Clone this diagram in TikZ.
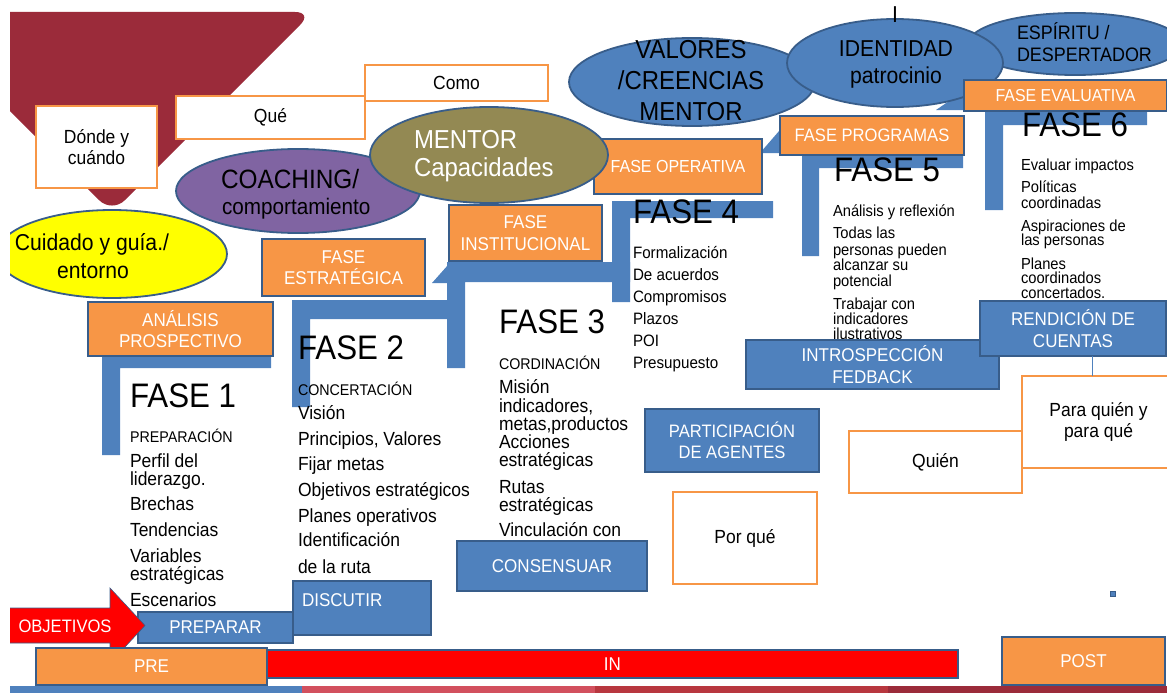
\documentclass[tikz,border=0pt]{standalone}
\usepackage{fontspec}
\setmainfont[FakeStretch=0.92]{Liberation Sans}
\usetikzlibrary{shapes.geometric}
\definecolor{dred}{RGB}{155,43,58}
\definecolor{orng}{RGB}{247,150,70}
\definecolor{blu}{RGB}{79,129,189}
\definecolor{bdr}{RGB}{56,93,138}
\definecolor{purp}{RGB}{128,100,162}
\definecolor{olive}{RGB}{147,137,83}
\definecolor{yel}{RGB}{255,255,0}
\definecolor{strp}{RGB}{210,80,94}
\definecolor{strq}{RGB}{184,55,63}
\newcommand\fs[2]{\fontsize{#1}{#2}\selectfont}
\begin{document}
\begin{tikzpicture}[x=1pt,y=-1pt,
  every node/.style={inner sep=0pt,outer sep=0pt},
  obox/.style={draw=bdr,fill=orng,line width=1.5pt,text=white,align=center,font=\fs{18.5}{21.5},anchor=north west},
  bbox/.style={draw=bdr,fill=blu,line width=2pt,text=white,align=center,font=\fs{18.5}{21.5},anchor=north west},
  wbox/.style={draw=orng,fill=white,line width=2.5pt,text=black,align=center,font=\fs{19}{20.5},anchor=north west},
  ell/.style={ellipse,draw=bdr,line width=1.8pt},
  bar/.style={fill=blu},
  big/.style={anchor=base west,font=\fs{34}{34}},
  li/.style={anchor=base west,font=\fs{19}{19}},
  lis/.style={anchor=base west,font=\fs{16}{16}},
  capl/.style={anchor=base west,font=\fs{15.5}{15.5}}
]
\useasboundingbox (0,0) rectangle (1167,693);
\begin{scope}
\clip (10,0) rectangle (1167,693);
% dark red background shape
\fill[dred, rounded corners=18pt] (-20,12) -- (313,12) -- (112,213) -- (-20,81) -- cycle;
% staircase bars
\fill[bar] (102,356) -- (271,356) -- (271,368) -- (120,368) -- (120,455) -- (102,455) -- cycle;
\fill[bar] (292,300) -- (460,300) -- (460,319) -- (310,319) -- (310,407) -- (292,407) -- cycle;
\fill[bar] (447,262) -- (630,262) -- (630,282) -- (465,282) -- (465,368) -- (447,368) -- cycle;
\fill[bar] (432,283) -- (448,283) -- (448,265) -- cycle;
\fill[bar] (612,201) -- (773,201) -- (773,218) -- (630,218) -- (630,302) -- (612,302) -- cycle;
\fill[bar] (802,150) -- (963,150) -- (963,168) -- (819,168) -- (819,256) -- (802,256) -- cycle;
\fill[bar] (760,153) -- (786,153) -- (786,123) -- cycle;
\fill[bar] (985,100) -- (1147,100) -- (1147,125) -- (1003,125) -- (1003,210) -- (985,210) -- cycle;
\fill[bar] (936,110) -- (968,110) -- (968,88) -- cycle;
% ellipses
\node[ell, fill=yel, minimum width=230pt, minimum height=88pt] (cui) at (112,254) {};
\node[ell, fill=purp, minimum width=244pt, minimum height=84pt] (coach) at (298,191) {};
\node[ell, fill=blu, minimum width=214pt, minimum height=62pt] (esp) at (1075,44) {};
\node[ell, fill=blu, minimum width=246pt, minimum height=88pt] (val) at (692,82) {};
\node[ell, fill=blu, minimum width=216pt, minimum height=88pt] (ide) at (895,63) {};
% phase texts
\node[big] (F1) at (130,407) {FASE 1};
\node[big] (F2) at (298,359) {FASE 2};
\node[big] (F3) at (499,333) {FASE 3};
\node[big] (F4) at (633,223) {FASE 4};
\node[big] (F5) at (834,181.7) {FASE 5};
\node[big] (F6) at (1022,136) {FASE 6};
\node[capl] (f1c) at (130,442.5) {PREPARACIÓN};
\foreach \yy/\tx [count=\i] in {467/Perfil del, 485/liderazgo., 510/Brechas, 536/Tendencias, 562/Variables, 580/estratégicas, 606/Escenarios}
  \node[li] (f1-\i) at (130,\yy) {\tx};
\node[capl] (f2c) at (298,395.6) {CONCERTACIÓN};
\foreach \yy/\tx [count=\i] in {419/Visión, 445/{Principios, Valores}, 470.7/Fijar metas, 496.7/Objetivos estratégicos, 522.7/Planes operativos, 546.7/Identificación, 573/de la ruta}
  \node[li] (f2-\i) at (298,\yy) {\tx};
\node[capl] (f3c) at (499,369) {CORDINACIÓN};
\foreach \yy/\tx [count=\i] in {393/Misión, 412/{indicadores,}, 430/{metas,productos}, 448/Acciones, 466.7/estratégicas, 493/Rutas, 511.7/estratégicas, 536.7/Vinculación con}
  \node[li] (f3-\i) at (499,\yy) {\tx};
\foreach \yy/\tx [count=\i] in {258/Formalización, 280/De acuerdos, 302.7/Compromisos, 324/Plazos, 346.7/POI, 368/Presupuesto}
  \node[anchor=base west,font=\fs{16.5}{16.5}] (f4-\i) at (633,\yy) {\tx};
\foreach \yy/\tx [count=\i] in {216.7/Análisis y reflexión, 238/Todas las, 255/personas pueden, 270/alcanzar su, 286/potencial, 309.3/Trabajar con, 324/indicadores, 339/ilustrativos}
  \node[lis] (f5-\i) at (833,\yy) {\tx};
\foreach \yy/\tx [count=\i] in {170.7/Evaluar impactos, 192/Políticas, 208.3/coordinadas, 231/Aspiraciones de, 245.7/las personas, 269.3/Planes, 283.3/coordinados, 298/concertados.}
  \node[lis] (f6-\i) at (1021,\yy) {\tx};
% white boxes
\node[wbox, minimum width=121pt, minimum height=82pt] (dc) at (36,106) {Dónde y\\cuándo};
\node[wbox, minimum width=189pt, minimum height=43pt] (que) at (176,96) {Qué};
\node[wbox, minimum width=183pt, minimum height=36pt] (como) at (365,65) {Como};
\node[wbox, minimum width=144pt, minimum height=92pt] (pq2) at (673,492) {Por qué};
\node[wbox, minimum width=173pt, minimum height=62pt] (qui) at (849,431) {Quién};
\node[wbox, minimum width=153pt, minimum height=92pt] (pq) at (1022,376) {Para quién y\\para qué};
% orange boxes
\node[obox, minimum width=185pt, minimum height=54pt] (ap) at (88,302) {ANÁLISIS\\PROSPECTIVO};
\node[obox, minimum width=163pt, minimum height=57pt] (fe) at (262,239) {FASE\\ESTRATÉGICA};
\node[obox, minimum width=153pt, minimum height=56pt] (fi) at (449,205) {FASE\\INSTITUCIONAL};
\node[obox, minimum width=168pt, minimum height=55pt, font=\fs{17.4}{17.4}] (fo) at (594,139) {FASE OPERATIVA};
\node[obox, minimum width=184pt, minimum height=39pt, font=\fs{18}{18}] (fp) at (780,116) {FASE PROGRAMAS};
\node[obox, minimum width=203pt, minimum height=31pt, font=\fs{17.3}{17.3}] (fev) at (964,80) {FASE EVALUATIVA};
% mentor ellipse (over fase operativa)
\node[ell, fill=olive, minimum width=238pt, minimum height=96pt] (men) at (489,155) {};
% blue boxes
\node[bbox, minimum width=253pt, minimum height=49pt] (intro) at (746,340) {INTROSPECCIÓN\\FEDBACK};
\node[bbox, minimum width=186pt, minimum height=55pt] (rc) at (980,301) {RENDICIÓN DE\\CUENTAS};
\node[bbox, minimum width=174pt, minimum height=63pt, font=\fs{18}{21.5}] (pa) at (645,409) {PARTICIPACIÓN\\DE AGENTES};
\node[bbox, minimum width=190pt, minimum height=50pt] (cons) at (457,541) {CONSENSUAR};
\node[bbox, minimum width=138pt, minimum height=54pt] (disc) at (293,581) {};
\node[anchor=west, text=white, font=\fs{18.5}{18.5}] (discT) at (302,600) {DISCUTIR};
\node[bbox, minimum width=155pt, minimum height=31pt, line width=1.5pt] (prep) at (138,612) {PREPARAR};
% connector rendicion -> para quien
\coordinate (c1) at (1092,356);
\draw[blu, line width=1pt] (c1) -- (c1 |- pq.north);
\node[fill=blu, draw=bdr, line width=1pt, minimum size=5pt] (sq) at (1113,594) {};
% objetivos arrow
\draw[fill=red, draw=bdr, line width=0.6pt] (5,608) -- (110,608) -- (110,588) -- (145,625.5) -- (110,663) -- (110,643) -- (5,643) -- cycle;
\node[text=white, font=\fs{18}{18}] (obj) at (65,626) {OBJETIVOS};
% bottom bars
\node[obox, minimum width=231pt, minimum height=37pt, line width=2pt] (pre) at (36,648) {PRE};
\node[draw=bdr, fill=red, line width=1.5pt, minimum width=691pt, minimum height=28pt, anchor=north west, text=white, font=\fs{18.5}{18.5}] (in) at (267,650) {IN};
\node[obox, minimum width=163pt, minimum height=48pt, line width=2pt] (post) at (1002,637) {POST};
\fill[blu] (10,686) rectangle (302,693);
\fill[strp] (302,686) rectangle (595,693);
\fill[strq] (595,686) rectangle (888,693);
\fill[dred] (888,686) rectangle (1167,693);
% ellipse texts
\node[anchor=base, font=\fs{23}{23}] (cuiA) at (92,250) {Cuidado y guía./};
\node[anchor=base, font=\fs{23}{23}] (cuiB) at (93,278) {entorno};
\node[anchor=base west, font=\fs{26.5}{26.5}] (coA) at (221,188) {COACHING/};
\node[anchor=base west, font=\fs{22.5}{22.5}] (coB) at (222,214) {comportamiento};
\node[anchor=base west, text=white, font=\fs{26}{26}] (meA) at (414,148) {MENTOR};
\node[anchor=base west, text=white, font=\fs{26}{26}] (meB) at (414,176) {Capacidades};
\node[anchor=base, font=\fs{26}{26}] (vaA) at (691,59) {VALORES};
\node[anchor=base, font=\fs{26}{26}] (vaB) at (691,89) {/CREENCIAS};
\node[anchor=base, font=\fs{26}{26}] (vaC) at (691,120) {MENTOR};
\node[anchor=base, font=\fs{23}{23}] (idA) at (895,23) {I};
\node[anchor=base, font=\fs{23}{23}] (idB) at (896,57) {IDENTIDAD};
\node[anchor=base, font=\fs{23}{23}] (idC) at (896,83) {patrocinio};
\node[anchor=base west, font=\fs{19.5}{19.5}] (esA) at (1017,40) {ESPÍRITU /};
\node[anchor=base west, font=\fs{19.5}{19.5}] (esB) at (1017,62) {DESPERTADOR};
\end{scope}
\end{tikzpicture}
\end{document}
